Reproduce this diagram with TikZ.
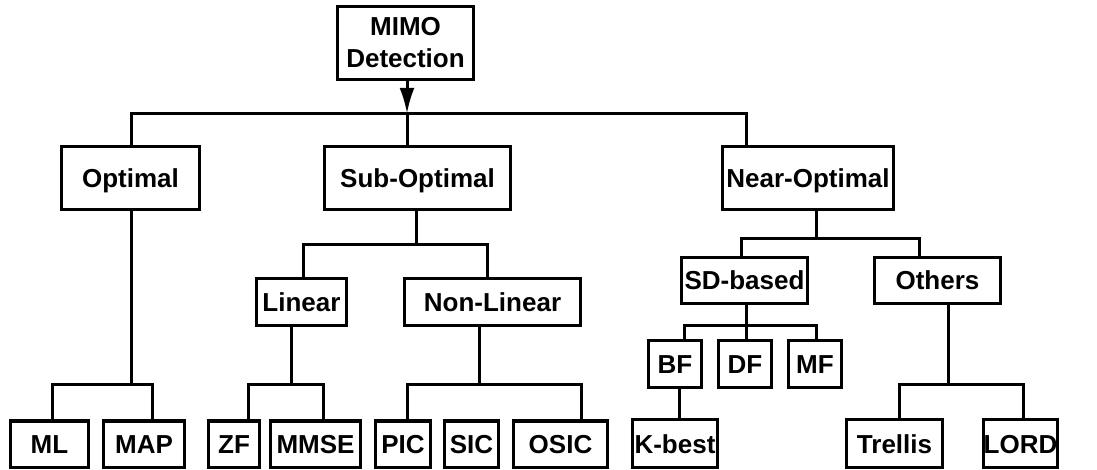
\documentclass[tikz,border=0pt]{standalone}
\usepackage{fontspec}
\setmainfont{Liberation Sans}
\usetikzlibrary{arrows.meta}

% box given by its left, right, top and bottom edges (1 unit = 1pt, y downwards)
\newcommand{\bx}[7][]{%
  \node[box,#1,minimum width={#4-#3},minimum height={#6-#5}]
    (#2) at ({(#3+#4)/2},{(#5+#6)/2}) {#7};}

\begin{document}
\begin{tikzpicture}[x=1pt,y=-1pt,
  box/.style={draw=black,line width=3.6pt,rectangle,inner sep=0pt,
    font=\fontsize{26}{32}\selectfont\bfseries,align=center},
  oneline/.style={text height=19pt,text depth=0pt},
  conn/.style={draw=black,line width=3pt},
  arr/.style={conn,-{Latex[length=26pt,width=15pt]}}]

\path[fill=white,use as bounding box] (0,0) rectangle (1097,470);

% root
\bx{mimo}{337.5}{473.5}{6.5}{79.5}{MIMO\\Detection}

% first level
\bx[oneline]{optimal}{61.5}{199.5}{146.5}{209.5}{Optimal}
\bx[oneline]{subopt}{324.5}{510.5}{146.5}{209.5}{Sub-Optimal}
\bx[oneline]{nearopt}{722.5}{893.5}{146.5}{209.5}{Near-Optimal}

% second level
\bx[oneline]{linear}{256.5}{346.5}{278.5}{325.5}{Linear}
\bx[oneline]{nonlinear}{404.5}{580.5}{278.5}{325.5}{Non-Linear}
\bx[oneline]{sd}{681.5}{807.5}{257.5}{303.5}{SD-based}
\bx[oneline]{others}{874.5}{1000.5}{257.5}{303.5}{Others}

% sphere-decoding variants
\bx[oneline]{bf}{648.5}{701.5}{340.5}{387.5}{BF}
\bx[oneline]{df}{718.5}{771.5}{340.5}{387.5}{DF}
\bx[oneline]{mf}{788.5}{841.5}{340.5}{387.5}{MF}

% leaves
\bx[oneline]{ml}{10.5}{88.5}{421}{467.5}{ML}
\bx[oneline]{map}{103.5}{184.5}{421}{467.5}{MAP}
\bx[oneline]{zf}{208.5}{259.5}{421}{467.5}{ZF}
\bx[oneline]{mmse}{270.5}{360.5}{421}{467.5}{MMSE}
\bx[oneline]{pic}{375.5}{430.5}{421}{467.5}{PIC}
\bx[oneline]{sic}{444.5}{498.5}{421}{467.5}{SIC}
\bx[oneline]{osic}{513.5}{607.5}{421}{467.5}{OSIC}
\bx[oneline]{kbest}{632.5}{717.5}{419.5}{467.5}{K-best}
\bx[oneline]{trellis}{846.5}{942.5}{419.5}{467.5}{Trellis}
\bx[oneline]{lord}{983.5}{1057.5}{419.5}{467.5}{LORD}

% root to first level
\draw[arr] ([xshift=1.5]mimo.south) -- ++(0,32.5) coordinate (jT);
\draw[conn] ([xshift=0.5]optimal.north) |- (jT) -| ([xshift=-62]nearopt.north);
\draw[conn] (jT) -- ([xshift=-10.5]subopt.north);

% optimal branch
\draw[conn] ([xshift=0.5]optimal.south) -- ++(0,173.5) coordinate (jO);
\draw[conn] ([xshift=2.5]ml.north) |- (jO) -| ([xshift=8]map.north);

% sub-optimal branch
\draw[conn] ([xshift=-1.5]subopt.south) -- ++(0,33.5) coordinate (jS);
\draw[conn] ([xshift=1.5]linear.north) |- (jS) -| ([xshift=-5.5]nonlinear.north);

\draw[conn] ([xshift=-10.5]linear.south) -- ++(0,57.5) coordinate (jL);
\draw[conn] ([xshift=14]zf.north) |- (jL) -| ([xshift=7.5]mmse.north);

\draw[conn] ([xshift=-13.5]nonlinear.south) -- ++(0,57.5) coordinate (jN);
\draw[conn] ([xshift=4]pic.north) |- (jN) -| ([xshift=20.5]osic.north);

% near-optimal branch
\draw[conn] ([xshift=8]nearopt.south) -- ++(0,27.5) coordinate (jR);
\draw[conn] ([xshift=-3.5]sd.north) |- (jR) -| ([xshift=-18.5]others.north);

\draw[conn] ([xshift=1.5]sd.south) -- ++(0,20.5) coordinate (jD);
\draw[conn] ([xshift=9]bf.north) |- (jD) -| ([xshift=1]mf.north);
\draw[conn] (jD) -- (df.north -| jD);

\draw[conn] ([xshift=4]bf.south) -- ([xshift=4]kbest.north);

\draw[conn] ([xshift=10.5]others.south) -- ++(0,79.5) coordinate (jX);
\draw[conn] ([xshift=4.5]trellis.north) |- (jX) -| ([xshift=2.5]lord.north);

\end{tikzpicture}
\end{document}
